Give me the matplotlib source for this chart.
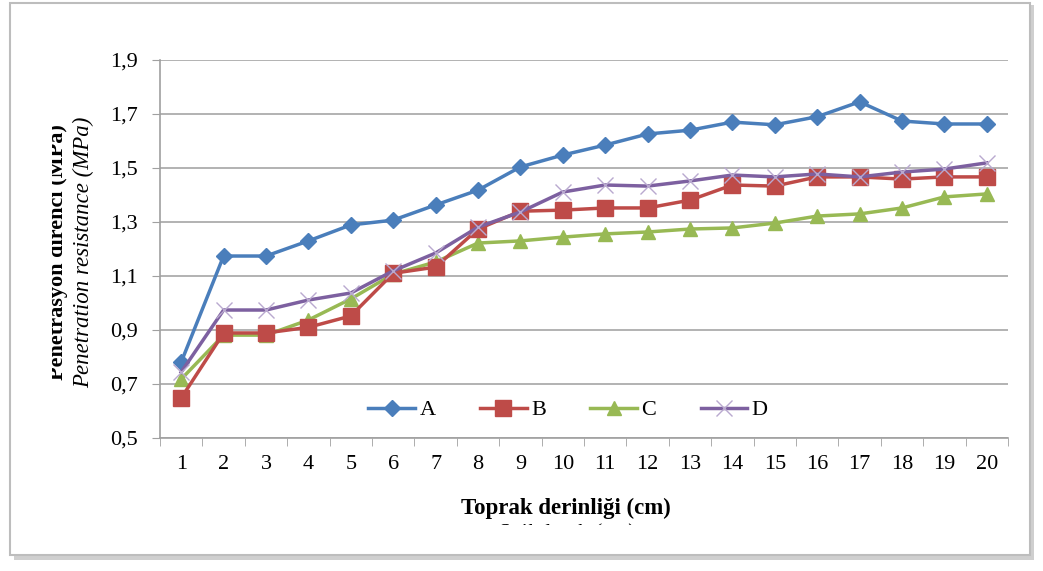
import matplotlib
matplotlib.use("Agg")
import matplotlib.pyplot as plt
from matplotlib.patches import Rectangle

depth = list(range(1, 21))
tick_labels = [str(d) for d in depth]
A = [0.781, 1.174, 1.174, 1.230, 1.289, 1.307, 1.363, 1.418, 1.504, 1.548,
     1.585, 1.626, 1.640, 1.670, 1.660, 1.690, 1.745, 1.674, 1.663, 1.663]
B = [0.648, 0.889, 0.889, 0.910, 0.952, 1.110, 1.133, 1.274, 1.340, 1.344,
     1.352, 1.352, 1.381, 1.437, 1.433, 1.467, 1.467, 1.459, 1.467, 1.467]
C = [0.718, 0.881, 0.881, 0.937, 1.015, 1.107, 1.152, 1.222, 1.230, 1.244,
     1.256, 1.263, 1.274, 1.278, 1.296, 1.322, 1.330, 1.352, 1.393, 1.404]
D = [0.744, 0.974, 0.974, 1.011, 1.037, 1.119, 1.185, 1.281, 1.337, 1.411,
     1.437, 1.433, 1.452, 1.474, 1.467, 1.478, 1.467, 1.485, 1.496, 1.519]
y_ticks = [0.5, 0.7, 0.9, 1.1, 1.3, 1.5, 1.7, 1.9]
y_tick_labels = ["0,5", "0,7", "0,9", "1,1", "1,3", "1,5", "1,7", "1,9"]

serif = ["Liberation Serif", "DejaVu Serif"]
plt.rcParams["font.family"] = serif

W, H = 1043, 571
fig = plt.figure(figsize=(W / 100, H / 100), dpi=100)

# outer frame with shadow
fig.patches.append(Rectangle((14 / W, 1 - 560 / H), 1020 / W, 555 / H,
                             transform=fig.transFigure, facecolor="#b0b0b0",
                             edgecolor="none", alpha=0.6, zorder=-3))
fig.patches.append(Rectangle((10 / W, 1 - 555 / H), 1020 / W, 552 / H,
                             transform=fig.transFigure, facecolor="white",
                             edgecolor="#bdbdbd", linewidth=1.5, zorder=-2))

ax = fig.add_axes([160 / W, 1 - 438 / H, (1008 - 160) / W, (438 - 60) / H])
ax.set_facecolor("none")

ax.plot(depth, A, color="#4a7ebb", marker="D", markersize=8, linewidth=2.5, label="A", zorder=5)
ax.plot(depth, B, color="#be4b48", marker="s", markersize=11, linewidth=2.5, label="B", zorder=4)
ax.plot(depth, C, color="#98b954", marker="^", markersize=10, linewidth=2.5, label="C", zorder=3)
ax.plot(depth, D, color="#7d60a0", marker="x", markersize=11, markeredgewidth=1.0,
        markeredgecolor="#b9a9cf", linewidth=2.5, label="D", zorder=6)

ax.set_xlim(0.5, 20.5)
ax.set_ylim(0.5, 1.9)
ax.set_yticks(y_ticks)
ax.set_yticklabels(y_tick_labels)
ax.set_xticks(depth)
ax.set_xticklabels(tick_labels)
ax.set_xticks([d + 0.5 for d in [0] + depth], minor=True)
ax.tick_params(axis="x", which="major", length=0, pad=12, labelsize=16)
ax.tick_params(axis="x", which="minor", length=6, color="#a0a0a0", direction="out")
ax.tick_params(axis="y", length=6, color="#a0a0a0", pad=10, labelsize=16)
ax.grid(axis="y", color="#a6a6a6", linewidth=1.2)
ax.set_axisbelow(True)
for s in ["top", "right"]:
    ax.spines[s].set_visible(False)
for s in ["left", "bottom"]:
    ax.spines[s].set_color("#a0a0a0")
    ax.spines[s].set_linewidth(1.2)

leg = ax.legend(loc="center", bbox_to_anchor=(568 / W, 1 - 410 / H),
                bbox_transform=fig.transFigure, ncol=4, frameon=False,
                fontsize=16, handlelength=2.1, columnspacing=2.0, handletextpad=0.2)

# y-axis labels (two lines, first cropped)
clip_y = Rectangle((52 / W, 0), 200 / W, 1, transform=fig.transFigure, visible=False)
fig.patches.append(clip_y)
t1 = fig.text(58 / W, 1 - 252 / H, "Penetrasyon direnci (MPa)", rotation=90,
              ha="center", va="center", fontsize=16, fontweight="bold")
t1.set_clip_path(clip_y)
fig.text(84 / W, 1 - 252 / H, "Penetration resistance (MPa)", rotation=90,
         ha="center", va="center", fontsize=16.5, style="italic")

# x-axis labels (second line cropped)
fig.text(566 / W, 1 - 508 / H, "Toprak derinliği (cm)", ha="center", va="center",
         fontsize=16.5, fontweight="bold")
clip_x = Rectangle((0, 1 - 525 / H), 1, 525 / H, transform=fig.transFigure, visible=False)
fig.patches.append(clip_x)
t2 = fig.text(566 / W, 1 - 533 / H, "Soil depth (cm)", ha="center", va="center",
              fontsize=16, style="italic")
t2.set_clip_path(clip_x)

fig.savefig("out.png", dpi=100)
